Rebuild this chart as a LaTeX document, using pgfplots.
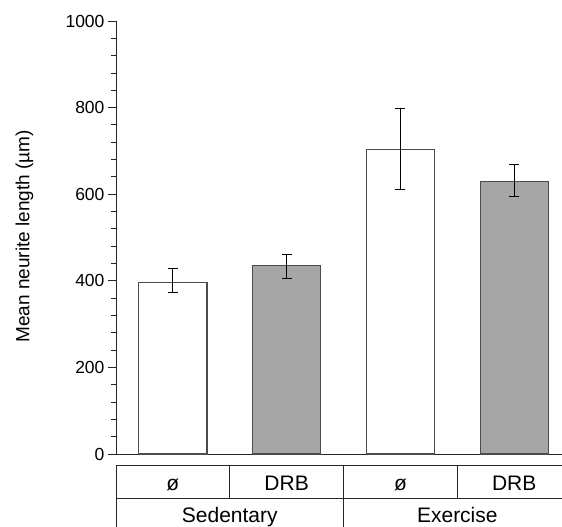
\documentclass[border=0pt]{standalone}
\usepackage{fontspec}
\setmainfont{Liberation Sans}
\usepackage{pgfplots}
\pgfplotsset{compat=1.18}
\definecolor{barfill}{HTML}{A6A6A6}
\begin{document}
\begin{tikzpicture}
\begin{axis}[
  at={(0,0)}, anchor=south west,
  scale only axis, width=446pt, height=433pt,
  xmin=-0.5, xmax=3.42, ymin=0, ymax=1000,
  axis x line=bottom, axis y line=left,
  axis line style={-, line width=0.9pt, black!85},
  xtick=\empty,
  ytick={0,200,...,1000}, minor y tick num=4,
  tick align=outside, major tick length=8pt, minor tick length=5pt,
  tick style={line width=0.9pt, black!85},
  /pgf/number format/assume math mode=true,
  /pgf/number format/1000 sep={},
  yticklabel style={font=\fontsize{17.5}{20}\selectfont},
  ylabel={Mean neurite length (µm)},
  ylabel style={at={(axis description cs:-0.205,0.503)}, anchor=center,
    font=\fontsize{19}{22}\selectfont},
  clip=false,
]
\addplot[ybar, bar width=0.6, bar shift=0pt, fill=white, draw=black!70, line width=1.1pt,
  error bars/.cd, y dir=both, y explicit,
  error bar style={black, line width=0.9pt},
  error mark options={rotate=90, black, mark size=5pt, line width=0.9pt}]
  table[x=x, y=y, y error plus=ep, y error minus=em] {
x y ep em
0 396 33 22
2 704 95 92
};
\addplot[ybar, bar width=0.6, bar shift=0pt, fill=barfill, draw=black!70, line width=1.1pt,
  error bars/.cd, y dir=both, y explicit,
  error bar style={black, line width=0.9pt},
  error mark options={rotate=90, black, mark size=5pt, line width=0.9pt}]
  table[x=x, y=y, y error plus=ep, y error minus=em] {
x y ep em
1 436 25 30
3 630 39 35
};
% category table below the axis
\draw[line width=0.9pt, black!85] ([yshift=-11pt]axis cs:-0.5,0) -- ([yshift=-11pt]axis cs:3.42,0);
\draw[line width=0.9pt, black!85] ([yshift=-44pt]axis cs:-0.5,0) -- ([yshift=-44pt]axis cs:3.42,0);
\draw[line width=0.9pt, black!85] ([yshift=-11pt]axis cs:-0.5,0) -- ([yshift=-90pt]axis cs:-0.5,0);
\draw[line width=0.9pt, black!85] ([yshift=-11pt]axis cs:0.5,0) -- ([yshift=-44pt]axis cs:0.5,0);
\draw[line width=0.9pt, black!85] ([yshift=-11pt]axis cs:1.5,0) -- ([yshift=-90pt]axis cs:1.5,0);
\draw[line width=0.9pt, black!85] ([yshift=-11pt]axis cs:2.5,0) -- ([yshift=-44pt]axis cs:2.5,0);
\node[anchor=base, font=\fontsize{21}{24}\selectfont] at ([yshift=-36pt]axis cs:0,0) {ø};
\node[anchor=base, font=\fontsize{21}{24}\selectfont] at ([yshift=-36pt]axis cs:1,0) {DRB};
\node[anchor=base, font=\fontsize{21}{24}\selectfont] at ([yshift=-36pt]axis cs:2,0) {ø};
\node[anchor=base, font=\fontsize{21}{24}\selectfont] at ([yshift=-36pt]axis cs:3,0) {DRB};
\node[anchor=base, font=\fontsize{21}{24}\selectfont] at ([yshift=-68pt]axis cs:0.5,0) {Sedentary};
\node[anchor=base, font=\fontsize{21}{24}\selectfont] at ([yshift=-68pt]axis cs:2.5,0) {Exercise};
\end{axis}
\pgfresetboundingbox
\path (-116pt,-73pt) rectangle (446pt,454pt);
\end{tikzpicture}
\end{document}
